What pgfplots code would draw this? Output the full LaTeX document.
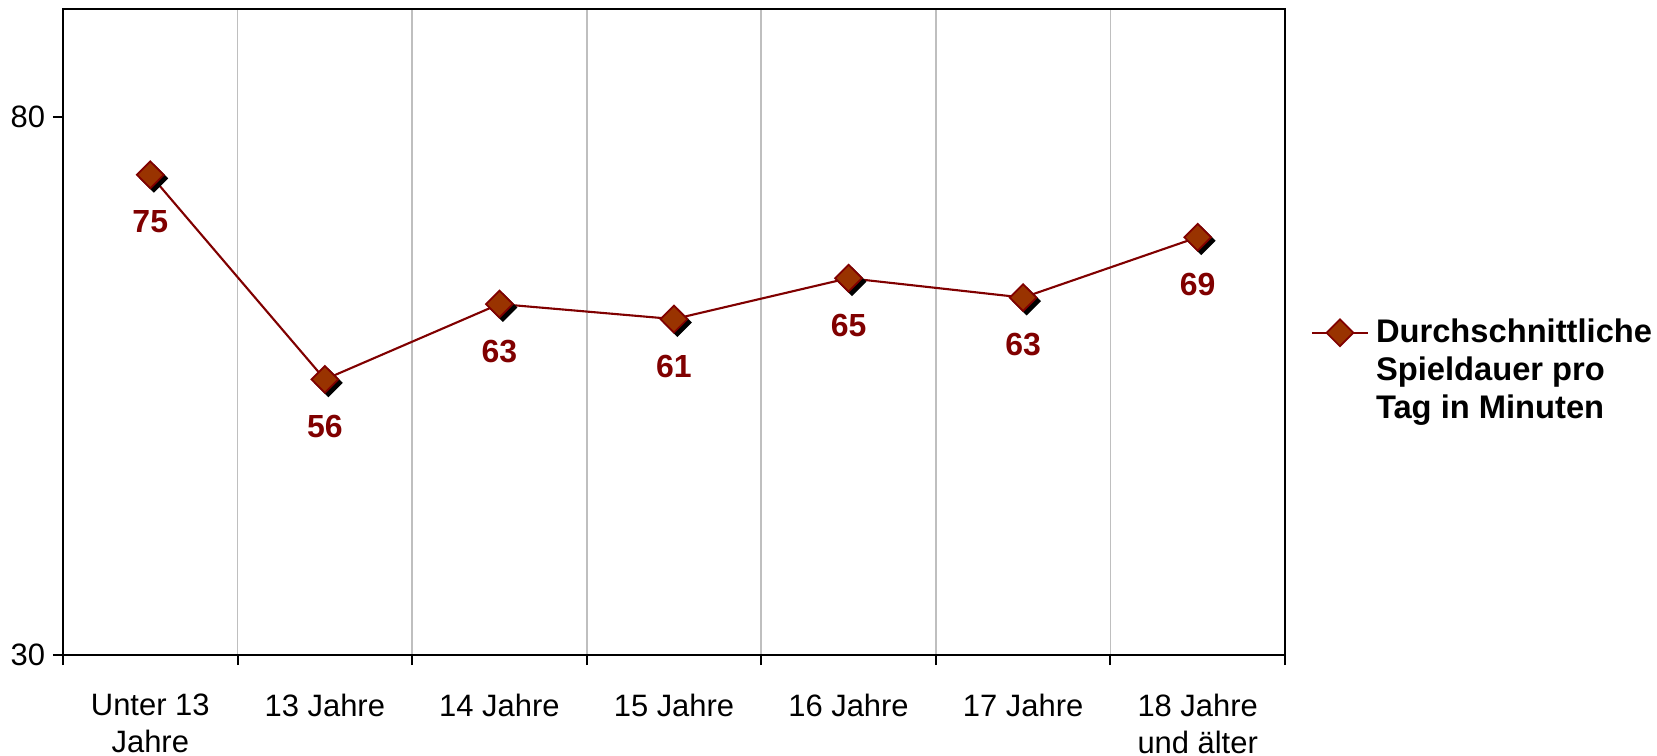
\documentclass[border=0pt]{standalone}
\usepackage{pgfplots}
\pgfplotsset{compat=1.18}
\usetikzlibrary{calc}
\usepackage{fontspec}
\setmainfont{Liberation Sans}
\definecolor{darkred}{HTML}{800000}
\definecolor{markfill}{HTML}{993300}
\begin{document}
\fontsize{8.8pt}{10.6pt}\selectfont
\begin{tikzpicture}
\begin{axis}[
    name=main,
    scale only axis,
    width=122.2mm, height=64.6mm,
    xmin=-0.5, xmax=6.5,
    ymin=30, ymax=90,
    ytick={30,80},
    xtick={0,...,6},
    xticklabels={Unter 13\\Jahre, 13 Jahre, 14 Jahre, 15 Jahre, 16 Jahre, 17 Jahre, 18 Jahre\\und älter},
    xticklabel style={align=center, anchor=north, yshift=-1.8mm},
    yticklabel style={xshift=0.3mm},
    major x tick style={draw=none},
    minor xtick={-0.5,0.5,...,6.5},
    xminorgrids,
    minor grid style={draw=black!25, line width=0.5pt},
    xtick pos=lower, ytick pos=left,
    tick align=outside,
    major tick length=1mm,
    minor tick length=1mm,
    every tick/.style={black, line width=0.6pt},
    axis line style={line width=0.6pt},
    tick label style={font=\fontsize{8.8pt}{10.6pt}\selectfont},
    /pgf/number format/assume math mode=true,
    legend style={at={(1.012,0.44)}, anchor=west, draw=none,
        font=\fontsize{9.3pt}{10.8pt}\selectfont\bfseries,
        nodes={align=left}},
    legend cell align=left,
    legend image code/.code={
        \begin{scope}[yshift=3.8mm]
        \draw[mark repeat=2, mark phase=2, #1] plot coordinates {(0cm,0cm) (0.28cm,0cm) (0.56cm,0cm)};
        \end{scope}
    },
]
% shadow of the markers
\addplot[forget plot, draw=none, mark=square*, mark size=2.7pt,
    mark options={xshift=0.35mm, yshift=-0.35mm, rotate=45, fill=black, draw=black}]
    coordinates {(0,74.6) (1,55.6) (2,62.6) (3,61.2) (4,65.0) (5,63.2) (6,68.8)};
\addplot[darkred, line width=0.6pt, mark=square*, mark size=2.7pt,
    mark options={rotate=45, fill=markfill, draw=darkred, line width=0.5pt},
    nodes near coords={\pgfmathprintnumber[fixed, precision=0]{\pgfplotspointmeta}},
    every node near coord/.append style={anchor=center, yshift=-4.7mm,
        text=darkred, font=\fontsize{9.1pt}{10pt}\selectfont\bfseries}]
    coordinates {(0,74.6) (1,55.6) (2,62.6) (3,61.2) (4,65.0) (5,63.2) (6,68.8)};
\addlegendentry{Durchschnittliche\\Spieldauer pro\\Tag in Minuten}
\end{axis}
\pgfresetboundingbox
\path[use as bounding box] ($(main.south west)+(-6.3mm,-10mm)$) rectangle ($(main.south west)+(159.4mm,65.5mm)$);
\end{tikzpicture}
\end{document}
